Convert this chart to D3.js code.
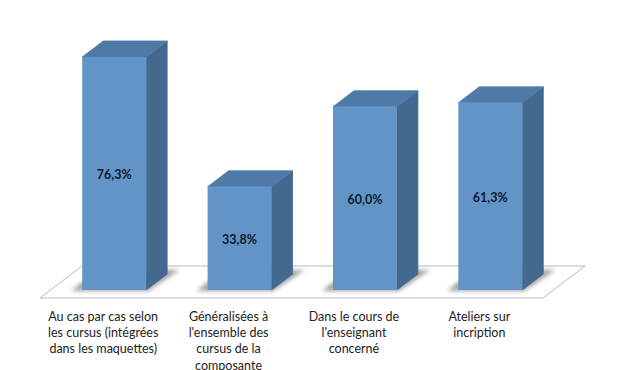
<!DOCTYPE html>
<html>
<head>
<meta charset="utf-8">
<script src="https://cdn.jsdelivr.net/npm/d3@7"></script>
<style>
    html, body { margin: 0; padding: 0; background: #fff; }
    svg { display: block; }
    text { font-family: Lato, "Open Sans", sans-serif; }
</style>
</head>
<body>
<div id="chart"></div>
<script>
// values
const categories = [
    ["Au cas par cas selon", "les cursus (intégrées", "dans les maquettes)"],
    ["Généralisées à", "l'ensemble des", "cursus de la", "composante"],
    ["Dans le cours de", "l'enseignant", "concerné"],
    ["Ateliers sur", "incription"]
];
const values = [76.3, 33.8, 60.0, 61.3];
const valueLabels = ["76,3%", "33,8%", "60,0%", "61,3%"];

const width = 630, height = 370;
const depthX = 21, depthY = 16;

let svg = d3.select("#chart").append("svg")
    .attr("width", width)
    .attr("height", height);

let defs = svg.append("defs");
defs.append("filter").attr("id", "blur")
    .attr("x", "-30%").attr("width", "160%")
    .attr("y", "-30%").attr("height", "160%")
    .append("feGaussianBlur").attr("stdDeviation", 2.2);

// one band per bar, front face only
let x = d3.scaleBand()
    .domain(d3.range(values.length))
    .range([51.5, 553])
    .paddingInner(0.49)
    .paddingOuter(0.245);

let y = d3.scaleLinear()
    .domain([0, 76.3])
    .range([290, 57]);

let poly = pts => "M" + pts.map(p => p.join(",")).join("L") + "Z";

// floor
let floorFront = y(0) + 8, floorBack = y(0) - 24;
svg.append("path")
    .attr("d", poly([[40, floorFront], [543, floorFront], [585, floorBack], [82, floorBack]]))
    .attr("fill", "#fff")
    .attr("stroke", "#b9b9b9")
    .attr("stroke-width", 1);

let bars = svg.selectAll(".bar")
    .data(values)
    .enter()
    .append("g")
    .attr("class", "bar");

// shadow on the floor
bars.append("path")
    .attr("d", (d, i) => {
        let x0 = x(i), x1 = x(i) + x.bandwidth(), b = y(0);
        return poly([[x0 - 11, b + 1], [x1 + 2, b + 1], [x1 + 33, b - 20], [x1, b - 20], [x0, b - 8]]);
    })
    .attr("fill", "#a3a3a3")
    .attr("filter", "url(#blur)");

// right side
bars.append("path")
    .attr("d", (d, i) => {
        let x1 = x(i) + x.bandwidth();
        return poly([[x1, y(d)], [x1 + depthX, y(d) - depthY], [x1 + depthX, y(0) - depthY], [x1, y(0)]]);
    })
    .attr("fill", "#44698f")
    .attr("stroke", "#44698f")
    .attr("stroke-width", 0.8)
    .attr("stroke-linejoin", "round");

// top
bars.append("path")
    .attr("d", (d, i) => {
        let x0 = x(i), x1 = x(i) + x.bandwidth();
        return poly([[x0, y(d)], [x1, y(d)], [x1 + depthX, y(d) - depthY], [x0 + depthX, y(d) - depthY]]);
    })
    .attr("fill", "#4f7aa8")
    .attr("stroke", "#4f7aa8")
    .attr("stroke-width", 0.8)
    .attr("stroke-linejoin", "round");

// front
bars.append("rect")
    .attr("x", (d, i) => x(i))
    .attr("y", d => y(d))
    .attr("width", x.bandwidth())
    .attr("height", d => y(0) - y(d))
    .attr("fill", "#6294c8");

// value labels
bars.append("text")
    .attr("x", (d, i) => x(i) + x.bandwidth() / 2)
    .attr("y", d => (y(d) + y(0)) / 2 + 5.5)
    .attr("text-anchor", "middle")
    .attr("font-size", 12.5)
    .attr("font-weight", "bold")
    .attr("fill", "#0c1a2b")
    .text((d, i) => valueLabels[i]);

// category labels, centred under the floor rather than the front face
let labels = svg.selectAll(".cat")
    .data(categories)
    .enter()
    .append("text")
    .attr("class", "cat")
    .attr("text-anchor", "middle")
    .attr("font-size", 12.5)
    .attr("fill", "#222");

labels.selectAll("tspan")
    .data((d, i) => d.map(line => ({ line, i })))
    .enter()
    .append("tspan")
    .attr("x", d => x(d.i) + x.bandwidth() / 2 - 11)
    .attr("y", (d, j) => y(0) + 31 + j * 16.2)
    .text(d => d.line);
</script>
</body>
</html>
